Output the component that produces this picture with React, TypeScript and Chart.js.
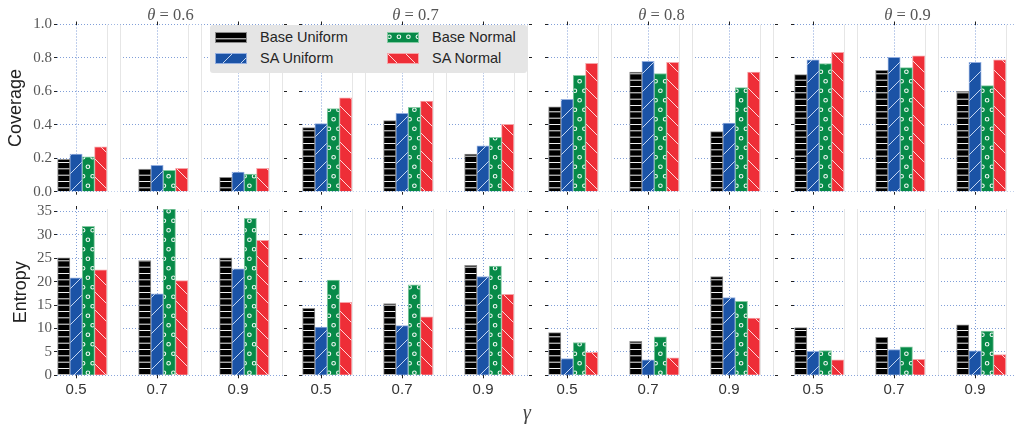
import React, { useEffect, useRef } from 'react';
import { Chart, registerables } from 'chart.js';

Chart.register(...registerables);

// ---------------- data ----------------
const thetaLabels = ['0.6', '0.7', '0.8', '0.9'];
const gammaValues = [0.5, 0.7, 0.9];
const gammaLabels = ['0.5', '0.7', '0.9'];
const seriesNames = ['Base Uniform', 'SA Uniform', 'Base Normal', 'SA Normal'];

// coverage, indexed [theta][gamma]
const coverageBaseUniform = [[0.194, 0.136, 0.086], [0.383, 0.425, 0.225], [0.508, 0.716, 0.359], [0.700, 0.726, 0.600]];
const coverageSAUniform = [[0.225, 0.158, 0.118], [0.407, 0.469, 0.275], [0.553, 0.780, 0.411], [0.789, 0.804, 0.774]];
const coverageBaseNormal = [[0.209, 0.128, 0.106], [0.497, 0.505, 0.325], [0.696, 0.707, 0.622], [0.766, 0.742, 0.634]];
const coverageSANormal = [[0.269, 0.140, 0.140], [0.562, 0.542, 0.403], [0.768, 0.774, 0.716], [0.834, 0.813, 0.788]];

// entropy, indexed [theta][gamma]
const entropyBaseUniform = [[25.1, 24.5, 25.1], [14.3, 15.3, 23.5], [9.1, 7.25, 21.1], [10.2, 8.1, 10.8]];
const entropySAUniform = [[20.8, 17.4, 22.75], [10.3, 10.6, 21.1], [3.55, 3.3, 16.6], [5.1, 5.5, 5.25]];
const entropyBaseNormal = [[31.8, 35.5, 33.5], [20.3, 19.3, 23.3], [7.0, 8.2, 15.8], [5.3, 6.1, 9.45]];
const entropySANormal = [[22.5, 20.2, 28.8], [15.6, 12.5, 17.3], [4.9, 3.75, 12.2], [3.3, 3.4, 4.4]];

const coverageTicks = [0, 0.2, 0.4, 0.6, 0.8, 1.0];
const coverageTickLabels = ['0.0', '0.2', '0.4', '0.6', '0.8', '1.0'];
const entropyTicks = [0, 5, 10, 15, 20, 25, 30, 35];
const entropyTickLabels = ['0', '5', '10', '15', '20', '25', '30', '35'];
const coverageMax = 1.0;
const entropyMax = 35.5;

// ---------------- style / geometry ----------------
const FILLS = ['#000000', '#1b53a6', '#078a48', '#ee2e37'];
const EDGES = ['#8c8c8c', '#93aedf', '#86caa3', '#f6a5a9'];
const GRID_COLOR = 'rgba(75,118,200,0.7)';
const TICK_COLOR = '#222';
const GROUP_LEFT = [57, 302, 548, 794];
const PLOT_W = 227;
const BAR_W = 12.3;
const PX_PER_UNIT = 405;
const FIRST_CENTER = 25.2;
const BAND_W = 12.5;

type RowSpec = {
  name: string;
  values: number[][][];
  max: number;
  ticks: number[];
  tickLabels: string[];
  plotTop: number;
  plotBottom: number;
  canvasTop: number;
  canvasH: number;
  showXLabels: boolean;
  titlePad: number;
};

const rows: RowSpec[] = [
  {
    name: 'Coverage',
    values: [coverageBaseUniform, coverageSAUniform, coverageBaseNormal, coverageSANormal],
    max: coverageMax,
    ticks: coverageTicks,
    tickLabels: coverageTickLabels,
    plotTop: 24.5,
    plotBottom: 191.7,
    canvasTop: 10,
    canvasH: 194,
    showXLabels: false,
    titlePad: 5.7,
  },
  {
    name: 'Entropy',
    values: [entropyBaseUniform, entropySAUniform, entropyBaseNormal, entropySANormal],
    max: entropyMax,
    ticks: entropyTicks,
    tickLabels: entropyTickLabels,
    plotTop: 209,
    plotBottom: 375.3,
    canvasTop: 197,
    canvasH: 209,
    showXLabels: true,
    titlePad: 10.7,
  },
];

function makeTile(w: number, h: number, draw: (g: CanvasRenderingContext2D, w: number, h: number) => void) {
  const c = document.createElement('canvas');
  c.width = w;
  c.height = h;
  const g = c.getContext('2d')!;
  draw(g, w, h);
  return c;
}

function makePatterns(ctx: CanvasRenderingContext2D): CanvasPattern[] {
  const black = makeTile(8, 19, (g, w, h) => {
    g.fillStyle = FILLS[0];
    g.fillRect(0, 0, w, h);
    g.strokeStyle = 'rgba(255,255,255,0.95)';
    g.lineWidth = 1;
    [0.5, 6.8, 13.2].forEach((y) => {
      g.beginPath();
      g.moveTo(0, y);
      g.lineTo(w, y);
      g.stroke();
    });
  });
  const blue = makeTile(18, 18, (g, w, h) => {
    g.fillStyle = FILLS[1];
    g.fillRect(0, 0, w, h);
    g.strokeStyle = 'rgba(215,228,250,0.9)';
    g.lineWidth = 1;
    [-18, 0, 18].forEach((o) => {
      g.beginPath();
      g.moveTo(o, h);
      g.lineTo(o + w, 0);
      g.stroke();
    });
  });
  const green = makeTile(19, 19, (g, w, h) => {
    g.fillStyle = FILLS[2];
    g.fillRect(0, 0, w, h);
    g.strokeStyle = 'rgba(255,255,255,0.95)';
    g.lineWidth = 1.1;
    [[2.4, 4.75], [7.1, 14.25], [11.9, 4.75], [16.6, 14.25]].forEach(([cx, cy]) => {
      g.beginPath();
      g.arc(cx, cy, 1.8, 0, Math.PI * 2);
      g.stroke();
    });
  });
  const red = makeTile(18, 18, (g, w, h) => {
    g.fillStyle = FILLS[3];
    g.fillRect(0, 0, w, h);
    g.strokeStyle = 'rgba(255,225,225,0.95)';
    g.lineWidth = 1;
    [-18, 0, 18].forEach((o) => {
      g.beginPath();
      g.moveTo(o, 0);
      g.lineTo(o + w, h);
      g.stroke();
    });
  });
  return [black, blue, green, red].map((t) => ctx.createPattern(t, 'repeat')!);
}

const bandPlugin = {
  id: 'panelBands',
  beforeDatasetsDraw(chart: any) {
    const { ctx, chartArea, scales } = chart;
    const xs = scales.x;
    ctx.save();
    ctx.beginPath();
    ctx.rect(chartArea.left, chartArea.top, chartArea.right - chartArea.left, chartArea.bottom - chartArea.top);
    ctx.clip();
    gammaValues.forEach((g) => {
      const x0 = xs.getPixelForValue(g) + 2 * BAR_W + 0.5;
      const x1 = x0 + BAND_W;
      ctx.fillStyle = '#ffffff';
      ctx.fillRect(x0, chartArea.top, BAND_W, chartArea.bottom - chartArea.top);
      ctx.strokeStyle = '#e6e6e6';
      ctx.lineWidth = 1;
      [x0, x1].forEach((x) => {
        const px = Math.round(x) + 0.5;
        ctx.beginPath();
        ctx.moveTo(px, chartArea.top);
        ctx.lineTo(px, chartArea.bottom);
        ctx.stroke();
      });
    });
    ctx.restore();
  },
};

function GroupChart({ row, k }: { row: RowSpec; k: number }) {
  const ref = useRef<HTMLCanvasElement>(null);
  const L = k === 0 ? 57 : 4;
  const R = 4;
  const T = row.plotTop - row.canvasTop;
  const H = row.plotBottom - row.plotTop;
  const B = row.canvasH - T - H;
  const canvasW = L + PLOT_W + R;
  const left = GROUP_LEFT[k] - L;

  useEffect(() => {
    const canvas = ref.current!;
    const ctx = canvas.getContext('2d')!;
    const patterns = makePatterns(ctx);
    const xMin = gammaValues[0] - FIRST_CENTER / PX_PER_UNIT;
    const xMax = xMin + PLOT_W / PX_PER_UNIT;
    const tShift = BAR_W / 2 / PX_PER_UNIT;
    const setGammaTicks = (s: any) => {
      s.ticks = gammaValues.map((v) => ({ value: v }));
    };
    const setYTicks = (s: any) => {
      s.ticks = row.ticks.map((v) => ({ value: v }));
    };
    const datasets = row.values.map((series, si) => ({
      label: seriesNames[si],
      data: gammaValues.map((g, gi) => ({ x: g, y: series[k][gi] })),
      backgroundColor: patterns[si],
      borderColor: EDGES[si],
      borderWidth: 1,
      barThickness: BAR_W,
      xAxisID: 'x',
      yAxisID: 'y',
    }));
    const chart = new Chart(canvas, {
      type: 'bar',
      data: { datasets } as any,
      options: {
        responsive: false,
        animation: false,
        events: [],
        layout: { padding: 0 },
        plugins: {
          legend: { display: false },
          title: { display: false },
          tooltip: { enabled: false },
        },
        scales: {
          x: {
            type: 'linear',
            display: false,
            min: xMin,
            max: xMax,
            offset: false,
            grid: { offset: false },
          },
          xt: {
            type: 'linear',
            axis: 'x',
            position: 'bottom',
            min: xMin + tShift,
            max: xMax + tShift,
            offset: false,
            afterBuildTicks: setGammaTicks,
            afterFit: (s: any) => {
              s.height = B;
            },
            grid: {
              offset: false,
              color: GRID_COLOR,
              lineWidth: 1,
              drawTicks: true,
              tickLength: 3,
              tickColor: TICK_COLOR,
              tickWidth: 1,
            },
            border: { display: false, dash: [1, 2] },
            ticks: {
              display: row.showXLabels,
              autoSkip: false,
              maxRotation: 0,
              minRotation: 0,
              padding: 3,
              color: '#333',
              font: { family: 'Liberation Sans', size: 15 },
              callback: (_v: any, i: number) => gammaLabels[i],
            },
          },
          xtop: {
            type: 'linear',
            axis: 'x',
            position: 'top',
            min: xMin + tShift,
            max: xMax + tShift,
            offset: false,
            afterBuildTicks: setGammaTicks,
            afterFit: (s: any) => {
              s.height = T;
            },
            grid: {
              offset: false,
              drawOnChartArea: false,
              drawTicks: true,
              tickLength: 3,
              tickColor: TICK_COLOR,
            },
            border: { display: false },
            ticks: { display: false },
          },
          y: {
            type: 'linear',
            position: 'left',
            min: 0,
            max: row.max,
            afterBuildTicks: setYTicks,
            afterFit: (s: any) => {
              s.width = L;
            },
            grid: {
              color: GRID_COLOR,
              lineWidth: 1,
              drawTicks: true,
              tickLength: 3,
              tickColor: TICK_COLOR,
              tickWidth: 1,
            },
            border: { display: false, dash: [1, 2] },
            ticks: {
              display: k === 0,
              padding: 2,
              color: '#555',
              font: { family: 'Liberation Serif', size: 15 },
              callback: (_v: any, i: number) => row.tickLabels[i],
            },
            title: {
              display: k === 0,
              text: row.name,
              color: '#222',
              font: { family: 'Liberation Sans', size: 18 },
              padding: { top: row.titlePad, bottom: 0 },
            },
          },
          yR: {
            type: 'linear',
            axis: 'y',
            position: 'right',
            min: 0,
            max: row.max,
            afterBuildTicks: setYTicks,
            afterFit: (s: any) => {
              s.width = R;
            },
            grid: {
              drawOnChartArea: false,
              drawTicks: true,
              tickLength: 3,
              tickColor: TICK_COLOR,
            },
            border: { display: false },
            ticks: { display: false },
          },
        },
      } as any,
      plugins: [bandPlugin],
    });
    return () => chart.destroy();
  }, []);

  return (
    <canvas
      ref={ref}
      width={canvasW}
      height={row.canvasH}
      style={{ position: 'absolute', left, top: row.canvasTop, width: canvasW, height: row.canvasH }}
    />
  );
}

function Swatch({ index, left, top }: { index: number; left: number; top: number }) {
  const ref = useRef<HTMLCanvasElement>(null);
  useEffect(() => {
    const c = ref.current!;
    const ctx = c.getContext('2d')!;
    ctx.clearRect(0, 0, 32, 11);
    ctx.fillStyle = makePatterns(ctx)[index];
    ctx.fillRect(0, 0, 32, 11);
    ctx.strokeStyle = EDGES[index];
    ctx.lineWidth = 1;
    ctx.strokeRect(0.5, 0.5, 31, 10);
  }, []);
  return <canvas ref={ref} width={32} height={11} style={{ position: 'absolute', left, top, width: 32, height: 11 }} />;
}

function Legend() {
  return (
    <div
      style={{
        position: 'absolute',
        left: 210,
        top: 25,
        width: 317,
        height: 48,
        background: '#e5e5e5',
        borderRadius: 3,
      }}
    >
      {seriesNames.map((name, i) => {
        const col = Math.floor(i / 2);
        const r = i % 2;
        const sx = col === 0 ? 5 : 177;
        const sy = r === 0 ? 7 : 28;
        return (
          <React.Fragment key={name}>
            <Swatch index={i} left={sx} top={sy} />
            <div
              style={{
                position: 'absolute',
                left: sx + 45,
                top: sy,
                height: 11,
                display: 'flex',
                alignItems: 'center',
                whiteSpace: 'nowrap',
                fontFamily: 'Liberation Sans',
                fontSize: 14.5,
                lineHeight: 1,
                color: '#262626',
              }}
            >
              {name}
            </div>
          </React.Fragment>
        );
      })}
    </div>
  );
}

export default function App() {
  return (
    <div
      style={{
        position: 'absolute',
        left: 0,
        top: 0,
        width: 1015,
        height: 428,
        overflow: 'hidden',
        background: '#ffffff',
      }}
    >
      {rows.map((row, ri) => thetaLabels.map((_t, k) => <GroupChart key={`${ri}-${k}`} row={row} k={k} />))}
      {thetaLabels.map((t, k) => (
        <div
          key={t}
          style={{
            position: 'absolute',
            left: GROUP_LEFT[k] + PLOT_W / 2 - 60,
            width: 120,
            top: 7.2,
            textAlign: 'center',
            fontFamily: 'Liberation Serif',
            fontSize: 16.5,
            lineHeight: '16.5px',
            color: '#555',
            whiteSpace: 'nowrap',
          }}
        >
          <i>θ</i> = {t}
        </div>
      ))}
      <Legend />
      <div
        style={{
          position: 'absolute',
          left: 507,
          width: 40,
          top: 402,
          textAlign: 'center',
          fontFamily: 'Liberation Serif',
          fontStyle: 'italic',
          fontSize: 20,
          lineHeight: '20px',
          color: '#444',
        }}
      >
        γ
      </div>
    </div>
  );
}
